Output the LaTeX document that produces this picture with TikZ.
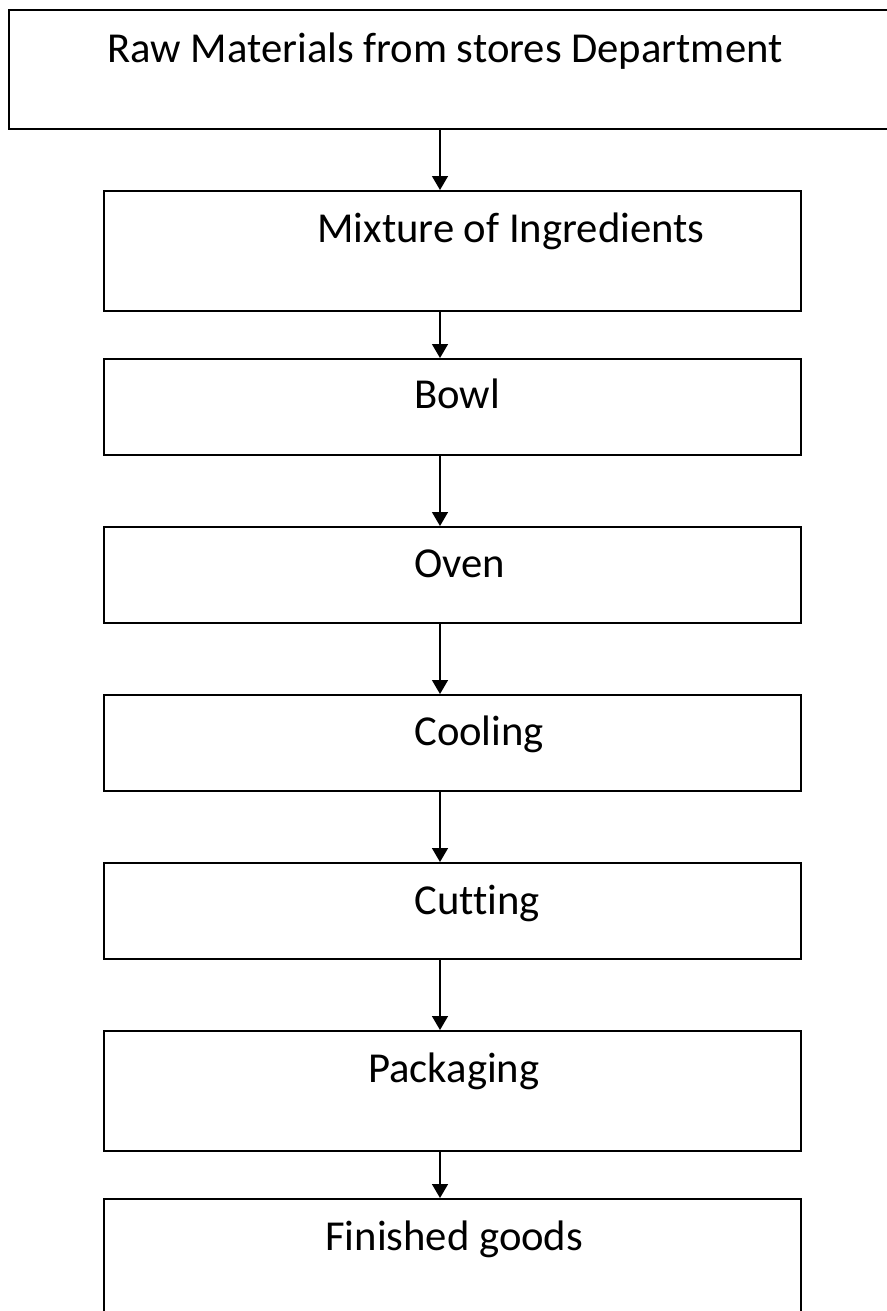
\documentclass[tikz,border=0pt]{standalone}
\usepackage{fontspec}
\setmainfont[Ligatures=NoCommon]{Carlito}
\usetikzlibrary{arrows.meta}

\tikzset{
  stagebox/.style={draw, line width=1.4pt, anchor=north west, inner sep=0pt, minimum width=522.75pt},
  stagetext/.style={anchor=base west, inner sep=0pt, font=\fontsize{32}{38}\selectfont},
  flow/.style={line width=1.1pt, -{Triangle[length=10.5pt,width=12pt]}}
}

\begin{document}
\begin{tikzpicture}[x=0.75pt,y=-0.75pt]
\useasboundingbox (0,0) rectangle (886,1311);

% Boxes
\node[stagebox, minimum width=690pt, minimum height=89.25pt] (raw) at (8,9) {};
\foreach \name/\ytop/\h in {mix/190/90, bowl/358/72, oven/526/72, cool/694/72, cut/862/72, pack/1030/90} {
    \node[stagebox, minimum height=\h pt] (\name) at (103,\ytop) {};
}
\node[stagebox, minimum height=120pt] (goods) at (103,1198) {};

% Labels
\foreach \name/\x/\y/\txt in {rawtxt/107/62/Raw Materials from stores Department,
    mixtxt/317/242/Mixture of Ingredients, bowltxt/414/408/Bowl, oventxt/414/577/Oven,
    cooltxt/414/745/Cooling, cuttxt/414/914/Cutting, packtxt/368/1082/Packaging,
    goodstxt/325/1250/Finished goods} {
    \node[stagetext] (\name) at (\x,\y) {\txt};
}

% Arrows
\coordinate (spine) at (440,0);
\foreach \a/\b in {raw/mix, mix/bowl, bowl/oven, oven/cool, cool/cut, cut/pack, pack/goods} {
    \draw[flow] (\a.south -| spine) -- (\b.north -| spine);
}
\end{tikzpicture}
\end{document}
